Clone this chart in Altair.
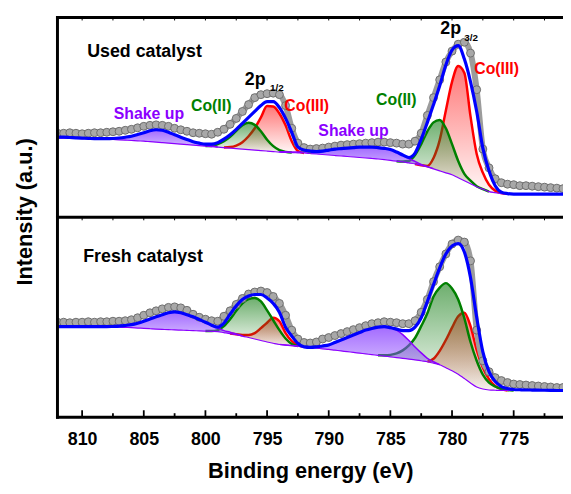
import altair as alt
import pandas as pd

FONT = "Liberation Sans"

# Binding-energy grid of the measured spectra (812 -> 770 eV, 0.5 eV step)
energy = [812 - 0.5 * k for k in range(85)]

# ---------------- Used catalyst (upper panel), intensity a.u. ----------------
used_data = [85, 85, 85.5, 85, 84.5, 85, 85.5, 85.5, 86, 86.5, 87, 88, 89, 90.5, 92, 93, 93.5, 93, 92, 90,
             88.5, 87, 85.5, 85, 84.5, 84, 86, 89, 94, 100, 107, 114, 121, 124, 125, 125.5, 124, 113, 90, 75,
             70.5, 69, 69.5, 70, 71, 72, 73, 73.5, 74, 74.5, 75, 75.5, 76, 76, 75.5, 75, 74, 74, 77, 85,
             103, 121, 139, 157, 168, 175, 177, 166, 129, 69, 50, 39, 35, 33.5, 33, 32, 32, 31.5, 31, 30.5,
             30, 29.5, 29, 29, 29]
used_env = [81, 81, 80.7, 80.3, 80, 79.8, 79.6, 79.5, 79.5, 79.7, 80.2, 81, 82, 83.7, 85.5, 87.5, 88.5, 88, 86, 83.5,
            81, 78.7, 76.5, 75, 74, 74, 75.5, 79, 83.5, 89, 95, 101, 107, 113, 117, 117, 111, 100, 86, 71,
            68, 67, 66.5, 67, 68, 69, 69.5, 70, 70.5, 71, 71, 71, 70.5, 69.7, 68.5, 66, 63, 60.5, 65, 79,
            96, 114, 133, 154, 169, 173.5, 160, 137, 107, 70, 47, 32, 25.5, 24, 23.5, 23.5, 23.5, 23.5, 23.5, 23.5,
            23.5, 23.5, 23.5, 23.5, 23.5]
used_bg = [80, 80, 80, 79.8, 79.5, 79.5, 79.3, 79.2, 79, 78.7, 78.3, 78, 77.7, 77.3, 77, 76.5, 76, 75.5, 75, 74.5,
           74, 73.5, 73, 72.5, 72, 71.5, 71, 70.5, 70, 69.5, 69, 68.5, 68, 67.5, 67, 66.5, 66, 65.7, 65.5, 65.2,
           65, 64.5, 64, 63.5, 63, 62.5, 62, 61.5, 61, 60.5, 60, 59.5, 59, 58.3, 57.5, 56.8, 56, 55, 54, 52.5,
           51, 49, 47, 45, 43, 40, 37, 34, 31, 28.5, 26, 25, 24, 23.7, 23.5, 23.5, 23.4, 23.4, 23.3, 23.3,
           23.2, 23.2, 23.1, 23.1, 23]
# fitted components: (first energy, values every 0.5 eV towards lower energy)
used_shake1 = (809, [79.4, 79.3, 79.3, 79.5, 80.1, 80.9, 81.9, 83.6, 85.4, 87.4, 88.4, 87.9, 85.9, 83.4, 80.9,
                     78.5, 76.2, 74.5, 73, 72, 71.2])
used_co2_half = (800, [72, 72, 74, 77, 81.5, 87.5, 93, 95.5, 93.5, 87, 78.5, 72, 68, 66.2, 65.5])
used_co3_half = (798.5, [70.7, 71, 72.5, 76, 82, 90, 101, 112.5, 112, 105, 93, 77, 67, 65])
used_shake2 = (794, [66.2, 66.2, 66, 66, 66, 66.3, 66.5, 67, 68, 69, 69.5, 70, 70.5, 71, 71, 71, 70.5, 69.7,
                     68.5, 66, 63, 59.5, 56.5, 53.5, 51.3, 49.2])
used_co2 = (784.5, [56.8, 56.5, 57, 63, 74, 87, 96, 98.5, 90, 74, 57, 44, 37, 31.5, 28.6, 26])
used_co3 = (783, [54, 52.7, 52, 60, 78, 108, 137, 153, 146, 102, 64, 45, 33, 27, 24.5, 23.7])

# ---------------- Fresh catalyst (lower panel), intensity a.u. ----------------
fresh_data = [96, 96, 95.5, 96, 96, 96.5, 96, 96.5, 96.5, 97, 97, 97.5, 98.5, 100.5, 103, 105.5, 107.5, 109.5, 111, 111.5,
              110.5, 108, 104, 101, 99, 97.5, 97, 102, 107.5, 114, 120, 124.5, 126.5, 127.5, 126, 122, 115, 103, 88, 79,
              75.5, 75, 76, 79, 80.5, 82.5, 84.5, 86.5, 88.5, 90.5, 92.5, 94.5, 95.5, 96.5, 96, 95.5, 94.5, 94.5, 97.5, 106,
              119, 137, 152, 165, 175, 179, 177, 158, 88, 57, 46, 40, 37, 35, 33.5, 33, 32.5, 32, 31.5, 31,
              30.5, 30, 30, 30, 30]
fresh_env = [91.5, 91.5, 91.5, 91.5, 91.5, 91.5, 91.5, 91.5, 91.5, 91.7, 92, 92.7, 93.5, 95, 97, 99.3, 101.5, 103.5, 105.5, 106.5,
             105.5, 103.5, 101.5, 98.7, 96, 93, 91, 95, 104, 112.5, 119, 122.5, 124, 124, 120.5, 115, 106, 91, 82, 74.5,
             71, 70.5, 71, 72, 73, 75.5, 78, 80.5, 83, 85.5, 88, 89.7, 91, 91.5, 90.5, 89, 87.5, 87.5, 91, 100.5,
             117, 134, 151, 165, 173, 175.5, 167, 141, 101, 66, 46, 36, 31, 29, 28, 27.7, 27.5, 27.4, 27.3, 27.2,
             27.1, 27, 27, 27, 27]
fresh_bg = [91.5, 91.5, 91.5, 91.5, 91.5, 91.5, 91.5, 91.5, 91.5, 91.2, 91, 90.7, 90.5, 90.1, 89.8, 89.4, 89, 88.7, 88.5, 88.2,
            88, 87.7, 87.5, 87.2, 87, 86.8, 86.5, 85.5, 84.5, 83.3, 82, 80.5, 79, 77.5, 76, 74.7, 73.5, 72.8, 72.2, 71.6,
            71, 70.4, 69.8, 69.1, 68.5, 67.7, 67, 66.2, 65.5, 64.7, 64, 63.2, 62.5, 61.7, 61, 60.2, 59.5, 58.7, 58, 57,
            56, 54.5, 53, 50, 47, 43.5, 39, 34.5, 30.5, 28.5, 27.5, 27.2, 27, 27, 27, 27, 27, 27, 27, 27,
            27, 27, 27, 27, 27]
fresh_shake1 = (808, [91.5, 91.6, 91.9, 92.6, 93.4, 94.9, 96.9, 99.2, 101.4, 103.4, 105.4, 106.4, 105.4, 103.4, 101.4,
                      98.6, 95.5, 92.5, 90, 87.5, 86, 84, 82.2])
fresh_co2_half = (800, [87.2, 87, 88, 92, 99, 107.5, 115, 119.5, 120.5, 117, 108, 98, 88, 79.5, 74, 72])
fresh_co3_half = (798, [84.7, 83.8, 83, 83, 85, 90, 95.5, 100.5, 97, 85, 77, 72.5, 71.2])
fresh_shake2 = (794, [73.6, 73, 72.5, 72, 71.5, 71.5, 72, 72.5, 73.5, 75.5, 78, 80.5, 83, 85.5, 88, 90, 91, 91.5,
                      90.5, 88, 83.5, 77.5, 71, 65, 59.5, 56, 53])
fresh_co2 = (786, [62.6, 62.5, 63, 64.5, 67.5, 72.5, 80, 92, 105, 122, 131, 135.5, 130, 119, 100, 76, 57, 43, 35,
                   31, 28.5, 27.5, 27])
fresh_co3 = (782, [56.2, 59, 67, 78, 90.5, 102, 105.5, 92, 68, 50, 38.5, 31.5, 28.5, 27])

tick_major = [810, 805, 800, 795, 790, 785, 780, 775]
tick_minor = [807.5, 802.5, 797.5, 792.5, 787.5, 782.5, 777.5, 772.5]

# ---------------- geometry ----------------
W, H = 511, 404
PANEL = 202  # upper panel offset in the stacked intensity scale

xs = alt.Scale(domain=[771, 812], reverse=True, nice=False, zero=False)
ys = alt.Scale(domain=[0, H], nice=False, zero=False)

x_axis = alt.Axis(
    values=tick_major, format="d", labelFont=FONT, labelFontSize=18, labelFontWeight="bold",
    labelColor="black", ticks=False, tickSize=0, domain=False, grid=False, labelPadding=14,
    labelFlush=False,
    title="Binding energy (eV)", titleFont=FONT, titleFontSize=22, titleFontWeight="bold",
    titleColor="black", titlePadding=12,
)


def X():
    return alt.X("E:Q", scale=xs, axis=x_axis)


def Y(field):
    return alt.Y(f"{field}:Q", scale=ys, axis=None)


def panel_df(data, env, bg, off):
    return pd.DataFrame({
        "E": energy,
        "data": [v + off for v in data],
        "env": [v + off for v in env],
        "bg": [v + off for v in bg],
    })


def comp_df(comp, bg, off):
    start, vals = comp
    i0 = int(round((812 - start) / 0.5))
    return pd.DataFrame({
        "E": energy[i0:i0 + len(vals)],
        "top": [v + off for v in vals],
        "base": [b + off for b in bg[i0:i0 + len(vals)]],
    })


used = panel_df(used_data, used_env, used_bg, PANEL)
fresh = panel_df(fresh_data, fresh_env, fresh_bg, 0)


def grad(r, g, b, a0, a1):
    return alt.Gradient(
        gradient="linear", x1=0, x2=0, y1=0, y2=1,
        stops=[alt.GradientStop(color=f"rgba({r},{g},{b},{a0})", offset=0),
               alt.GradientStop(color=f"rgba({r},{g},{b},{a1})", offset=1)],
    )


RED = "#ff0000"
GREEN = "#008000"
PURPLE = "#8b00ff"
BLUE = "#0000ff"


def comp_layers(df, kind):
    if kind == "red":
        fill, stroke, sw = grad(255, 20, 20, 0.58, 0.03), RED, 2.5
    elif kind == "green":
        fill, stroke, sw = grad(20, 125, 20, 0.62, 0.04), GREEN, 2.5
    else:
        fill, stroke, sw = grad(140, 70, 255, 0.8, 0.38), PURPLE, 1.5
    area = alt.Chart(df).mark_area(color=fill, interpolate="monotone", clip=True).encode(
        x=X(), y=Y("top"), y2=alt.Y2("base:Q"))
    line = alt.Chart(df).mark_line(color=stroke, strokeWidth=sw, interpolate="monotone", clip=True).encode(
        x=X(), y=Y("top"))
    return [area, line]


layers = []

for off, bg, comps in [
    (PANEL, used_bg, [(used_co3_half, "red"), (used_co3, "red"),
                      (used_co2_half, "green"), (used_co2, "green"),
                      (used_shake1, "purple"), (used_shake2, "purple")]),
    (0, fresh_bg, [(fresh_co3_half, "red"), (fresh_co3, "red"),
                   (fresh_co2_half, "green"), (fresh_co2, "green"),
                   (fresh_shake1, "purple"), (fresh_shake2, "purple")]),
]:
    for comp, kind in comps:
        layers += comp_layers(comp_df(comp, bg, off), kind)

for df in (used, fresh):
    layers.append(alt.Chart(df).mark_line(color=PURPLE, strokeWidth=1.2, interpolate="monotone", clip=True)
                  .encode(x=X(), y=Y("bg")))
    layers.append(alt.Chart(df).mark_line(color="#9c9c9c", strokeWidth=6, interpolate="monotone", clip=True)
                  .encode(x=X(), y=Y("data")))
    layers.append(alt.Chart(df).mark_circle(size=64, color="#a8a8a8", stroke="#6e6e6e", strokeWidth=1,
                                            opacity=1, clip=True)
                  .encode(x=X(), y=Y("data")))
    layers.append(alt.Chart(df).mark_line(color=BLUE, strokeWidth=3.2, interpolate="monotone", clip=True)
                  .encode(x=X(), y=Y("env")))

dummy = pd.DataFrame({"a": [0]})

# frame
for yv in (0, 202, H):
    layers.append(alt.Chart(dummy).mark_rule(color="black", strokeWidth=3, strokeCap="square")
                  .encode(x=alt.value(0), x2=alt.value(W + 5), y=alt.value(yv)))
layers.append(alt.Chart(dummy).mark_rule(color="black", strokeWidth=3, strokeCap="square")
              .encode(x=alt.value(0), y=alt.value(0), y2=alt.value(H)))

# ticks
maj = pd.DataFrame({"E": tick_major})
mnr = pd.DataFrame({"E": tick_minor})
layers.append(alt.Chart(maj).mark_rule(color="black", strokeWidth=1.8).encode(
    x=X(), y=alt.value(H), y2=alt.value(H - 7)))
layers.append(alt.Chart(mnr).mark_rule(color="black", strokeWidth=1.8).encode(
    x=X(), y=alt.value(H), y2=alt.value(H - 4)))
for yv in (0, 202):
    for d in (maj, mnr):
        layers.append(alt.Chart(d).mark_rule(color="black", strokeWidth=1).encode(
            x=X(), y=alt.value(yv), y2=alt.value(yv + 3)))


def label(text, e, i, color="black", size=16):
    return alt.Chart(dummy).mark_text(
        text=text, font=FONT, fontWeight="bold", fontSize=size, color=color,
        align="left", baseline="alphabetic",
    ).encode(x=alt.XDatum(e, scale=xs, axis=x_axis), y=alt.YDatum(i, scale=ys, axis=None))


layers += [
    label("Used catalyst", 809.59, 364, size=18),
    label("Fresh catalyst", 809.91, 157, size=18),
    label("Shake up", 807.43, 301, PURPLE),
    label("Shake up", 790.84, 284, PURPLE),
    label("Co(II)", 801.17, 309, GREEN),
    label("Co(II)", 786.16, 316, GREEN),
    label("Co(III)", 793.6, 309.7, RED),
    label("Co(III)", 778.2, 347.3, RED),
    label("2p", 796.81, 335.7, size=18),
    label("1/2", 794.77, 329.7, size=10),
    label("2p", 780.95, 387.3, size=18),
    label("3/2", 779.0, 380.7, size=10),
]

# y title
layers.append(alt.Chart(dummy).mark_text(
    text="Intensity (a.u.)", font=FONT, fontWeight="bold", fontSize=22, color="black",
    angle=270, align="center", baseline="alphabetic",
).encode(x=alt.value(-26), y=alt.value(196.5)))

chart = alt.layer(*layers).properties(
    width=W, height=H,
    autosize=alt.AutoSizeParams(type="none"),
    padding={"left": 50, "top": 7, "right": 0, "bottom": 70},
    background="white",
).configure_view(stroke=None)

chart.save("out.html", embed_options={"renderer": "svg", "actions": False})
